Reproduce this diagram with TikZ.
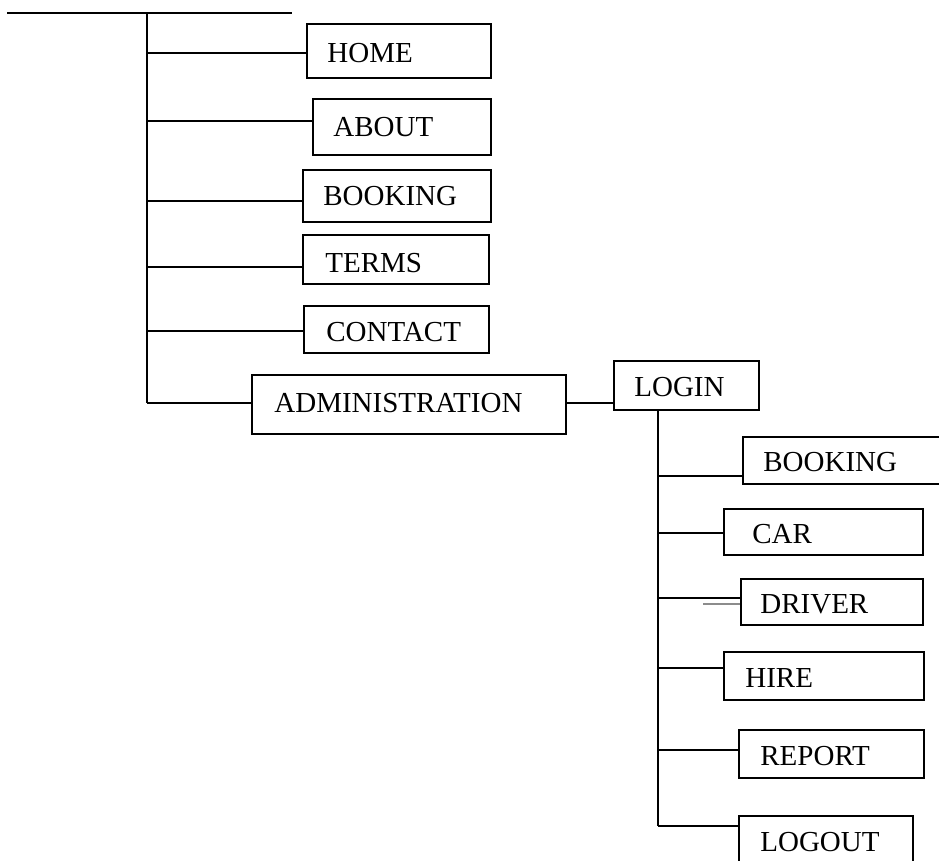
\documentclass[tikz,border=0pt]{standalone}
\usepackage{fontspec}
\setmainfont{Liberation Serif}
\usetikzlibrary{fit}
\begin{document}
\begin{tikzpicture}[x=0.5pt,y=-0.5pt,
  wire/.style={line width=0.75pt,black},
  faint/.style={line width=0.6pt,black!45},
  menubox/.style={draw,line width=0.7pt,inner sep=0pt},
  txt/.style={anchor=base west,inner sep=0pt,font=\fontsize{14.5pt}{17pt}\selectfont}]
\useasboundingbox (0,0) rectangle (939,861);
\clip (0,0) rectangle (939,861);

% main menu boxes
\node[menubox,fit={(307,24) (491,78)}]   (home) {};
\node[menubox,fit={(313,99) (491,155)}]  (about) {};
\node[menubox,fit={(303,170) (491,222)}] (booking) {};
\node[menubox,fit={(303,235) (489,284)}] (terms) {};
\node[menubox,fit={(304,306) (489,353)}] (contact) {};
\node[menubox,fit={(252,375) (566,434)}] (admin) {};

\node[txt] (homet)    at (327,63)  {HOME};
\node[txt] (aboutt)   at (333,137) {ABOUT};
\node[txt] (bookingt) at (323,206) {BOOKING};
\node[txt] (termst)   at (325,273) {TERMS};
\node[txt] (contactt) at (326,342) {CONTACT};
\node[txt] (admint)   at (274,413) {ADMINISTRATION};

% administration sub-menu boxes
\node[menubox,fit={(614,361) (759,410)}] (login) {};
\node[menubox,fit={(743,437) (960,484)}] (abook) {};
\node[menubox,fit={(724,509) (923,555)}] (car) {};
\node[menubox,fit={(741,579) (923,625)}] (driver) {};
\node[menubox,fit={(724,652) (924,700)}] (hire) {};
\node[menubox,fit={(739,730) (924,778)}] (report) {};
\node[menubox,fit={(739,816) (913,890)}] (logout) {};

\node[txt] (logint)  at (634,397) {LOGIN};
\node[txt] (abookt)  at (763,472) {BOOKING};
\node[txt] (cart)    at (752,544) {CAR};
\node[txt] (drivert) at (760,614) {DRIVER};
\node[txt] (hiret)   at (745,688) {HIRE};
\node[txt] (reportt) at (760,766) {REPORT};
\node[txt] (logoutt) at (760,852) {LOGOUT};

% top rail and main trunk
\coordinate (railL) at (7,13);
\coordinate (railR) at (292,13);
\coordinate (top)   at (147,13);
\coordinate (j1) at (147,53);
\coordinate (j2) at (147,121);
\coordinate (j3) at (147,201);
\coordinate (j4) at (147,267);
\coordinate (j5) at (147,331);
\coordinate (j6) at (147,403);
\draw[wire] (railL) -- (railR);
\draw[wire] (top) -- (j6);
\draw[wire] (j1) -- (j1 -| home.west);
\draw[wire] (j2) -- (j2 -| about.west);
\draw[wire] (j3) -- (j3 -| booking.west);
\draw[wire] (j4) -- (j4 -| terms.west);
\draw[wire] (j5) -- (j5 -| contact.west);
\draw[wire] (j6) -- (j6 -| admin.west);

% administration to login
\coordinate (a1) at (566,403);
\draw[wire] (a1) -- (a1 -| login.west);

% login trunk
\coordinate (ltop) at (658,410);
\coordinate (k1) at (658,476);
\coordinate (k2) at (658,533);
\coordinate (k3) at (658,598);
\coordinate (k4) at (658,668);
\coordinate (k5) at (658,750);
\coordinate (k6) at (658,826);
\draw[wire] (ltop) -- (k6);
\draw[wire] (k1) -- (k1 -| abook.west);
\draw[wire] (k2) -- (k2 -| car.west);
\draw[wire] (k3) -- (k3 -| driver.west);
\draw[wire] (k4) -- (k4 -| hire.west);
\draw[wire] (k5) -- (k5 -| report.west);
\draw[wire] (k6) -- (k6 -| logout.west);

% faint stroke beside the driver link
\coordinate (f1) at (703,604);
\draw[faint] (f1) -- (f1 -| driver.west);
\end{tikzpicture}
\end{document}
